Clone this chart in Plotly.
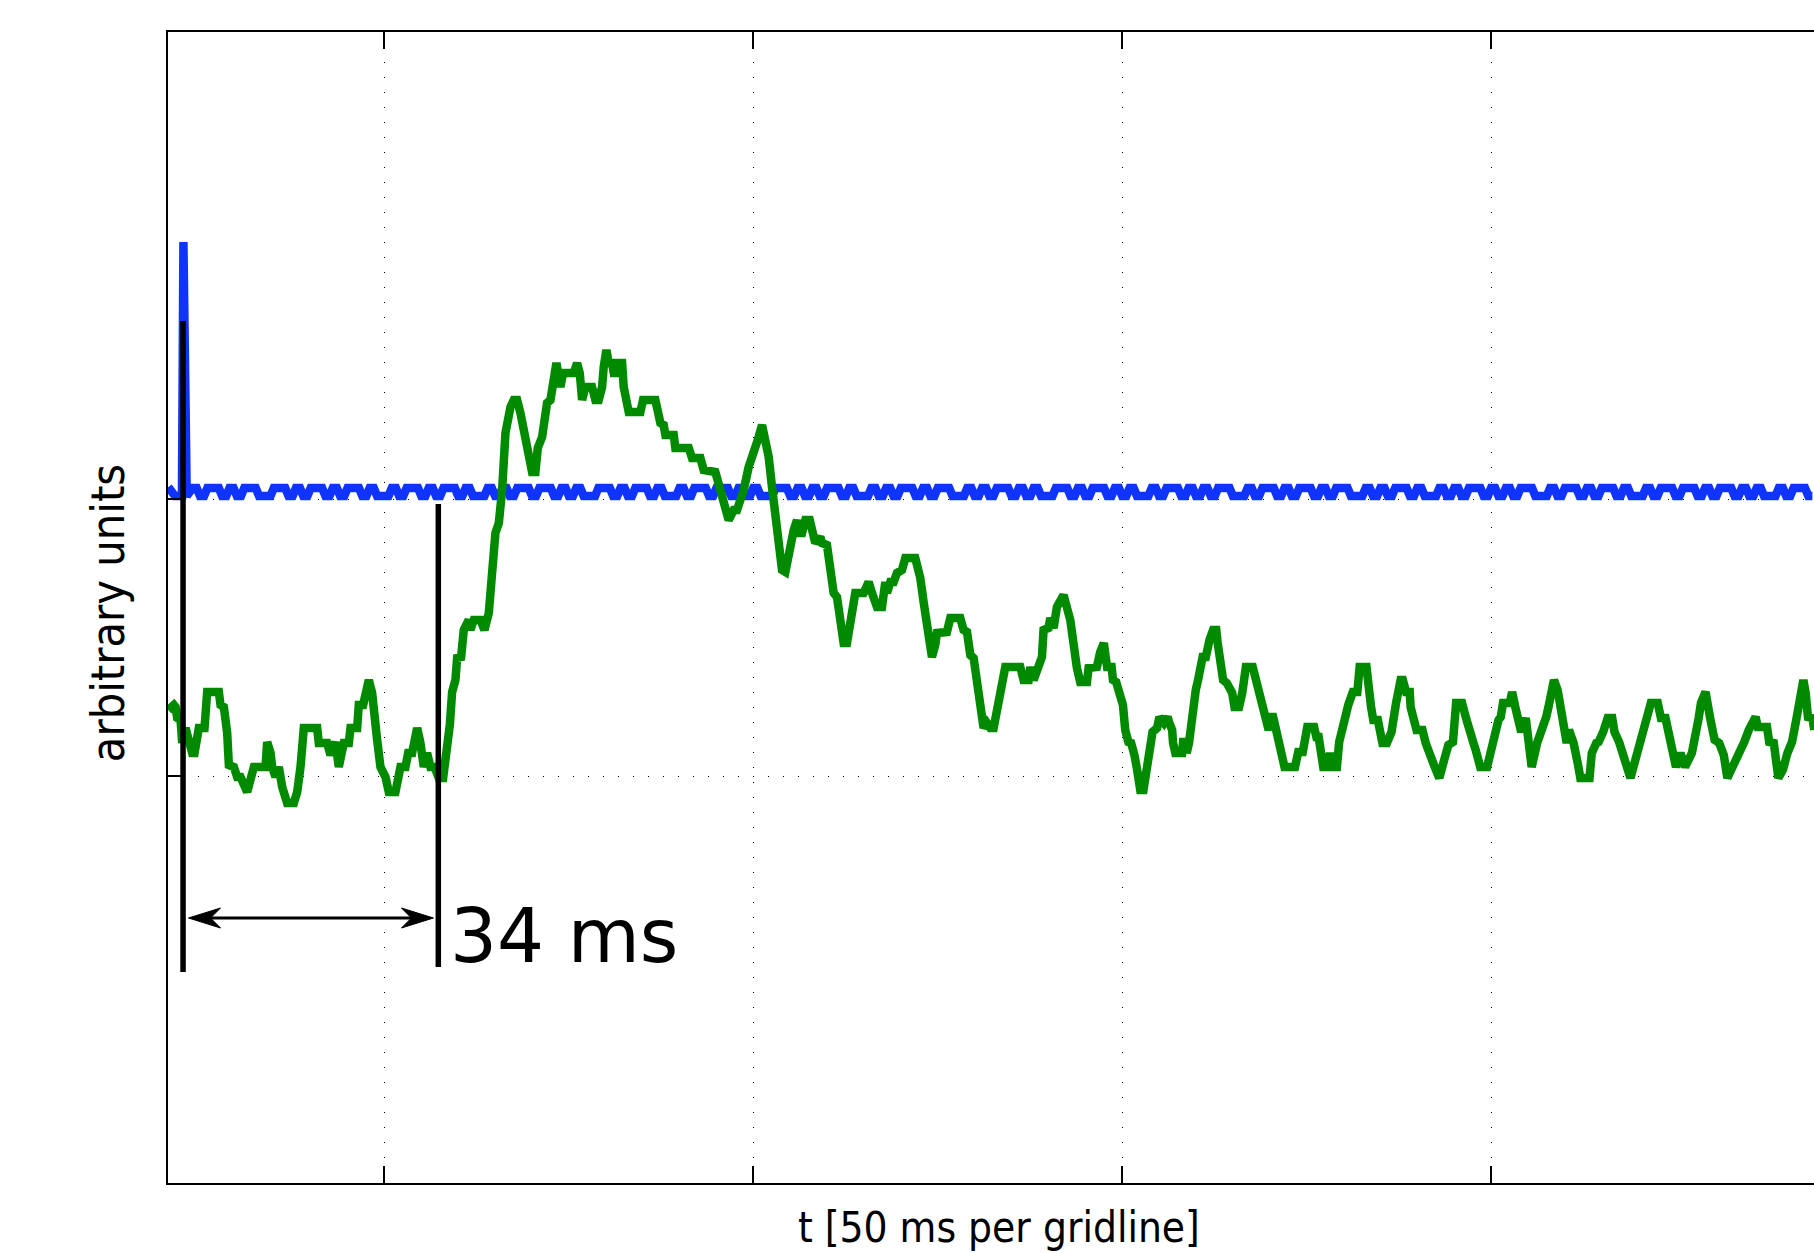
import plotly.graph_objects as go

# ---------------- data (t in ms, y in arbitrary units) ----------------
green_t = [
    20.7, 21.46, 21.68, 21.91, 22.36, 22.59, 23.04, 23.94, 24.26, 24.84,
    25.61, 25.97, 27.55, 27.78, 28.23, 28.68, 28.91, 29.59, 30.04, 30.49,
    31.39, 32.30, 33.88, 34.10, 34.56, 34.78, 35.23, 35.68, 36.14, 36.81,
    37.72, 38.17, 38.62, 39.07, 40.88, 41.10, 42.23, 42.69, 43.36, 43.81,
    44.49, 45.17, 45.40, 46.30, 46.52, 47.11, 47.88, 48.33, 49.01, 49.46,
    50.14, 50.59, 51.49, 52.17, 52.85, 53.21, 53.75, 54.43, 54.88, 55.33,
    55.78, 56.24, 56.78, 57.36, 57.95, 58.40, 58.86, 59.17, 59.62, 59.85,
    60.39, 60.75, 61.43, 61.65, 62.11, 63.01, 63.55, 64.14, 64.59, 65.04,
    65.50, 65.95, 66.40, 66.62, 67.08, 67.53, 67.98, 68.43, 68.88, 69.34,
    69.56, 70.01, 70.46, 70.78, 71.37, 71.59, 72.04, 72.50, 72.72, 72.95,
    73.31, 73.63, 73.85, 74.21, 75.66, 76.11, 76.47, 76.79, 77.24, 78.14,
    78.59, 79.04, 79.50, 79.72, 80.08, 80.40, 80.85, 81.08, 81.53, 81.75,
    82.21, 82.43, 82.66, 83.11, 84.69, 85.05, 86.72, 86.95, 87.40, 87.85,
    88.08, 89.21, 89.43, 91.24, 91.69, 92.82, 93.27, 94.85, 95.53, 96.21,
    96.66, 97.34, 97.79, 98.24, 98.69, 99.37, 100.05, 100.73, 101.18, 101.40,
    101.85, 102.08, 102.53, 102.98, 103.43, 103.89, 104.34, 104.79, 105.47, 105.92,
    106.14, 106.60, 107.05, 107.64, 108.18, 108.40, 109.08, 109.31, 109.98, 110.44,
    110.89, 111.34, 111.79, 112.24, 112.69, 113.15, 113.82, 114.95, 115.63, 116.08,
    116.76, 117.44, 117.89, 118.11, 118.57, 119.02, 119.47, 120.15, 120.60, 121.95,
    122.63, 123.08, 123.53, 123.76, 124.21, 124.66, 124.89, 126.24, 126.70, 128.05,
    128.50, 128.96, 129.41, 129.86, 130.31, 130.76, 131.21, 131.66, 132.12, 132.57,
    133.47, 134.15, 136.18, 136.63, 137.31, 137.54, 137.99, 138.67, 139.12, 139.34,
    140.02, 140.25, 140.70, 141.15, 142.05, 142.96, 143.41, 143.86, 144.31, 145.22,
    145.44, 146.57, 147.02, 147.51, 147.76, 147.95, 148.56, 148.75, 149.18, 149.80,
    150.10, 150.41, 150.84, 151.21, 151.34, 151.65, 151.96, 152.45, 152.88, 153.19,
    153.68, 153.81, 154.11, 154.73, 155.04, 155.66, 156.15, 156.40, 156.77, 156.89,
    157.20, 158.12, 158.25, 158.56, 158.74, 159.05, 159.36, 159.54, 159.97, 160.28,
    160.59, 160.90, 161.33, 161.52, 161.83, 162.32, 162.75, 162.94, 163.18, 163.68,
    164.17, 164.60, 164.91, 165.22, 165.84, 166.27, 166.64, 166.76, 167.69, 168.30,
    168.61, 169.23, 169.85, 170.15, 170.46, 170.77, 171.39, 172.00, 173.42, 173.86,
    174.47, 174.78, 175.09, 176.01, 176.32, 176.63, 177.06, 177.25, 177.86, 178.17,
    178.48, 179.10, 179.41, 180.02, 180.33, 180.64, 181.26, 181.87, 182.18, 183.11,
    183.73, 184.03, 184.65, 184.96, 185.27, 185.88, 186.50, 187.12, 187.74, 188.04,
    188.48, 188.97, 189.09, 189.90, 190.70, 191.13, 191.75, 192.36, 192.98, 193.29,
    193.90, 194.21, 194.83, 195.26, 196.06, 196.68, 196.99, 197.61, 197.91, 198.53,
    199.46, 200.07, 200.38, 201.00, 201.31, 201.62, 202.54, 202.85, 203.28, 203.77,
    204.08, 204.70, 205.01, 205.50, 206.24, 206.86, 207.47, 207.78, 208.09, 208.52,
    209.02, 209.33, 209.64, 209.94, 210.25, 210.56, 211.18, 211.79, 212.10, 213.34,
    213.65, 214.26, 214.57, 215.19, 215.81, 216.42, 216.73, 217.35, 217.84, 218.46,
    218.89, 219.81, 220.43, 221.05, 221.66, 222.59, 223.02, 223.64, 224.13, 224.75,
    225.06, 225.67, 226.29, 227.22, 227.53, 228.14, 228.45, 229.07, 229.69, 230.30,
    230.92, 231.54, 232.03, 232.77, 233.70, 234.31, 234.93, 235.85, 236.16, 237.40,
    237.70, 238.32, 238.94, 239.55, 240.17, 240.79, 241.41, 241.71, 242.33, 242.64,
    242.95, 243.56, 243.80,
]
green_y = [
    66, 71, 69, 58, 56, 33, 48, 23, 23, 48,
    48, 84, 84, 71, 69, 43, 11, 9, -1, -1,
    -16, 9, 9, 34, 23, 9, -1, 9, -11, -27,
    -27, -16, 9, 48, 48, 33, 33, 21, 34, 9,
    33, 33, 48, 48, 71, 71, 96, 83, 36, 9,
    -1, -16, -16, 9, 9, 23, 23, 48, 33, 9,
    23, 9, 9, -2, -2, 23, 51, 84, 96, 118,
    119, 146, 156, 146, 156, 156, 146, 163, 216, 243,
    253, 286, 343, 353, 369, 376, 376, 363, 343, 328,
    318, 304, 304, 328, 339, 353, 373, 376, 389, 399,
    413, 399, 389, 403, 403, 413, 403, 376, 389, 389,
    376, 376, 389, 409, 426, 413, 413, 403, 403, 413,
    413, 389, 376, 364, 364, 376, 376, 366, 353, 351,
    341, 341, 328, 328, 318, 318, 306, 304, 288, 269,
    256, 266, 266, 276, 286, 309, 328, 339, 351, 343,
    329, 319, 289, 259, 229, 206, 204, 223, 246, 256,
    243, 243, 256, 256, 243, 233, 239, 233, 231, 209,
    183, 179, 156, 133, 133, 159, 183, 183, 194, 183,
    169, 169, 194, 183, 194, 194, 203, 206, 218, 218,
    198, 174, 156, 143, 119, 131, 143, 144, 158, 158,
    146, 144, 121, 118, 93, 83, 48, 53, 48, 48,
    89, 109, 109, 96, 96, 109, 96, 109, 119, 146,
    148, 158, 148, 169, 181, 156, 129, 108, 94, 94,
    108, 109, 124, 133, 119, 109, 109, 96, 94, 73,
    71, 46, 34, 33, 23, 21, 9, -14, -14, -1,
    23, 34, 44, 48, 59, 53, 59, 53, 46, 33,
    23, 23, 34, 34, 23, 33, 56, 73, 86, 96,
    108, 119, 119, 133, 136, 146, 146, 133, 119, 96,
    93, 84, 83, 69, 69, 83, 96, 109, 109, 89,
    83, 59, 46, 59, 59, 49, 29, 9, 9, 24,
    24, 34, 49, 49, 39, 39, 23, 9, 9, 23,
    9, 9, 34, 56, 59, 71, 84, 84, 109, 109,
    69, 56, 56, 44, 33, 33, 44, 73, 96, 96,
    84, 84, 69, 46, 46, 33, 23, 9, -2, 9,
    23, 31, 34, 73, 73, 56, 46, 33, 26, 9,
    9, 29, 44, 56, 59, 73, 73, 84, 69, 56,
    44, 58, 33, 9, 33, 44, 59, 69, 86, 96,
    86, 69, 56, 44, 33, 46, 33, 11, -2, -2,
    23, 33, 34, 44, 58, 58, 44, 34, 21, 9,
    -2, 23, 39, 58, 73, 73, 58, 58, 44, 23,
    9, 23, 9, 23, 33, 58, 73, 84, 58, 36,
    33, 21, -2, 9, 23, 34, 46, 59, 49, 49,
    34, 33, -2, 6, 23, 34, 58, 73, 96, 83,
    59, 58, 46,
]

# blue trace: leading samples incl. the stimulus spike, then a two-level pattern
blue_lead_t = [20.7, 21.6, 22.55, 22.75, 23.2]
blue_lead_y = [289, 280, 280, 534, 280]
blue_pattern = (
    "10110101100110101101"
    "01101001011010110100"
    "10101101101010011010"
    "11010010110110101001"
    "10101011010010101101"
    "01100101011010100110"
    "10110101001011010101"
    "10010110101101011001"
    "01011010010101101010"
    "11001011010110100101"
    "10110101101010010110"
)
blue_start_t = 24.0
blue_step_t = 1.0
blue_hold_t = 0.55     # each sample level is held this long before the next edge
blue_levels = {"0": 280, "1": 288}

event_t = [22.7, 57.3]          # stimulus / response markers
delay_text = "34 ms"
x_gridlines = [50, 100, 150, 200]
y_ticks = [0, 277]

# ---------------- build ----------------
blue_t = list(blue_lead_t)
blue_y = list(blue_lead_y)
for i, c in enumerate(blue_pattern):
    t = blue_start_t + i * blue_step_t
    blue_t += [t, t + blue_hold_t]
    blue_y += [blue_levels[c], blue_levels[c]]

X_RANGE = [20.66, 243.77]
Y_RANGE = [-407, 744]

fig = go.Figure()
fig.add_trace(go.Scatter(x=blue_t, y=blue_y, mode="lines",
                         line=dict(color="#1034ff", width=8.5), hoverinfo="skip"))
fig.add_trace(go.Scatter(x=green_t, y=green_y, mode="lines",
                         line=dict(color="#008a00", width=8.5), hoverinfo="skip"))

# event markers
fig.add_shape(type="line", x0=event_t[0], x1=event_t[0], y0=-196, y1=455,
              line=dict(color="black", width=5.5))
fig.add_shape(type="line", x0=event_t[1], x1=event_t[1], y0=-191, y1=272,
              line=dict(color="black", width=5.5))

# double arrow between the markers
arrow_y = -142
a0, a1 = event_t[0] + 0.74, event_t[1] - 0.66
fig.add_shape(type="line", x0=a0 + 2.5, x1=a1 - 2.5, y0=arrow_y, y1=arrow_y,
              line=dict(color="black", width=3))
fig.add_shape(type="path", xsizemode="pixel", ysizemode="pixel",
              xanchor=a0, yanchor=arrow_y,
              path="M0,0 L32,10 L22,0 L32,-10 Z",
              fillcolor="black", line=dict(color="black", width=1))
fig.add_shape(type="path", xsizemode="pixel", ysizemode="pixel",
              xanchor=a1, yanchor=arrow_y,
              path="M0,0 L-32,10 L-22,0 L-32,-10 Z",
              fillcolor="black", line=dict(color="black", width=1))

fig.add_annotation(x=event_t[1] + 1.35, y=-160, xref="x", yref="y",
                   text=delay_text, showarrow=False, xanchor="left", yanchor="middle",
                   font=dict(family="DejaVu Sans", size=74, color="black"))

cond = "DejaVu Sans Condensed, DejaVu Sans"
fig.add_annotation(x=0.5049, y=-0.0385, xref="paper", yref="paper",
                   text="t [50 ms per gridline]", showarrow=False,
                   xanchor="center", yanchor="middle",
                   font=dict(family=cond, size=42, color="black"))
fig.add_annotation(x=-0.0365, y=0.495, xref="paper", yref="paper",
                   text="arbitrary units", showarrow=False, textangle=-90,
                   xanchor="center", yanchor="middle",
                   font=dict(family=cond, size=46.5, color="black"))

axis_common = dict(showticklabels=False, zeroline=False, showgrid=True,
                   gridcolor="black", gridwidth=1, griddash="1px,14px",
                   showline=True, linecolor="black", linewidth=1.5,
                   ticks="inside", tickcolor="black", tickwidth=1.5)
fig.update_xaxes(range=X_RANGE, tickvals=x_gridlines, ticklen=17,
                 mirror="allticks", **axis_common)
fig.update_yaxes(range=Y_RANGE, tickvals=y_ticks, ticklen=16,
                 mirror=False, **axis_common)

fig.update_layout(width=1814, height=1253, showlegend=False,
                  margin=dict(l=168, r=0, t=32, b=70, pad=0),
                  plot_bgcolor="white", paper_bgcolor="white",
                  font=dict(family="DejaVu Sans"))

fig.write_html("out.html", config={"displayModeBar": False})
